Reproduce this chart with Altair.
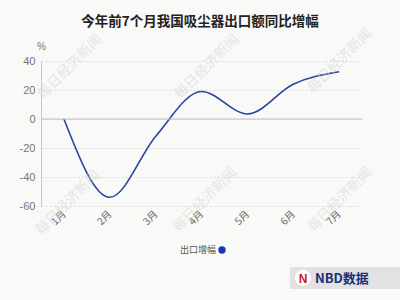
import altair as alt
import pandas as pd

months = ["1月", "2月", "3月", "4月", "5月", "6月", "7月"]
growth = [0, -54, -12, 19, 3.5, 24, 32.6]
y_ticks = [-60, -40, -20, 0, 20, 40]

wm_x = [29, 166, 299, 27, 164, 299]
wm_y = [6, 6, 0, 142, 139, 139]

df = pd.DataFrame({"month": months, "value": growth})
zero = pd.DataFrame({"value": [0]})
wm = pd.DataFrame({"x": wm_x, "y": wm_y, "t": ["每日经济新闻"] * len(wm_x)})

W, H = 321, 145
yscale = alt.Scale(domain=[-60, 40], nice=False)
yaxis = alt.Axis(values=y_ticks, title="%", titleAngle=0, titleX=0, titleY=-10,
                 titleAlign="center", titleFontWeight="normal", titleFontSize=10,
                 titleColor="#777", domainColor="#c8c8c8", ticks=False,
                 labelColor="#777", labelFontSize=11, labelPadding=6,
                 labelOverlap=False, labelFlush=False,
                 labelExpr="replace(datum.label, '\u2212', '-')",
                 gridColor="#dcdcdc", gridDash=[2, 2],
                 labelFont="Liberation Sans")

xs = alt.X("month:N", sort=months,
           scale=alt.Scale(type="point", padding=0.5),
           axis=alt.Axis(title=None, domain=False, ticks=False, grid=False,
                         labelAngle=315, labelAlign="right", labelBaseline="middle",
                         labelColor="#666", labelFontSize=10, labelPadding=6,
                         labelFont="Noto Sans CJK SC"))
ys = alt.Y("value:Q", scale=yscale, axis=yaxis)

watermark = alt.Chart(wm).mark_text(angle=315, fontSize=14, color="#d8d8d8", opacity=0.6,
                                    font="Noto Sans CJK SC").encode(
    x=alt.X("x:Q", scale=None, axis=None), y=alt.Y("y:Q", scale=None, axis=None), text="t:N")

line = alt.Chart(df).mark_line(color="#2a44a0", strokeWidth=1.6, interpolate="monotone").encode(
    x=xs, y=ys)

zero_rule = alt.Chart(zero).mark_rule(color="#bdbdbd", strokeWidth=1).encode(
    y=alt.Y("value:Q", scale=yscale, axis=yaxis),
    x=alt.value(0), x2=alt.value(W))

title = alt.Chart(pd.DataFrame({"t": ["今年前7个月我国吸尘器出口额同比增幅"]})).mark_text(
    align="center", baseline="middle", fontSize=13.5, fontWeight="bold", color="#222",
    font="Noto Sans CJK SC").encode(x=alt.value(159), y=alt.value(-39), text="t:N")

leg_text = alt.Chart(pd.DataFrame({"t": ["出口增幅"]})).mark_text(
    align="right", baseline="middle", fontSize=9, color="#555", font="Noto Sans CJK SC").encode(
    x=alt.value(175), y=alt.value(189), text="t:N")
leg_dot = alt.Chart(pd.DataFrame({"t": ["出口增幅"]})).mark_point(
    filled=True, size=55, color="#1538b5", opacity=1).encode(
    x=alt.value(181), y=alt.value(189))

banner = alt.Chart(pd.DataFrame({"t": [1]})).mark_rect(color="#e2e2e2").encode(
    x=alt.value(249), x2=alt.value(359), y=alt.value(206), y2=alt.value(228))
circle = alt.Chart(pd.DataFrame({"t": [1]})).mark_point(
    filled=True, size=260, color="white", opacity=1).encode(
    x=alt.value(262), y=alt.value(217))
nlogo = alt.Chart(pd.DataFrame({"t": ["N"]})).mark_text(
    fontSize=12, fontWeight="bold", color="#c8202a", font="Liberation Sans").encode(
    x=alt.value(262), y=alt.value(218), text="t:N")
nbd = alt.Chart(pd.DataFrame({"t": ["NBD数据"]})).mark_text(
    align="left", baseline="middle", fontSize=13, fontWeight="bold", color="#1b2f7a",
    font="Noto Sans CJK SC").encode(
    x=alt.value(274), y=alt.value(218), text="t:N")

chart = alt.layer(line, zero_rule, watermark, title, leg_text, leg_dot, banner, circle, nlogo, nbd).properties(
    width=W, height=H,
    autosize=alt.AutoSizeParams(type="none"),
    padding={"left": 41, "top": 61, "right": 38, "bottom": 94},
    background="#f9f9f7",
).configure_view(stroke=None)

chart.save("out.html", embed_options={"renderer": "svg", "actions": False})
